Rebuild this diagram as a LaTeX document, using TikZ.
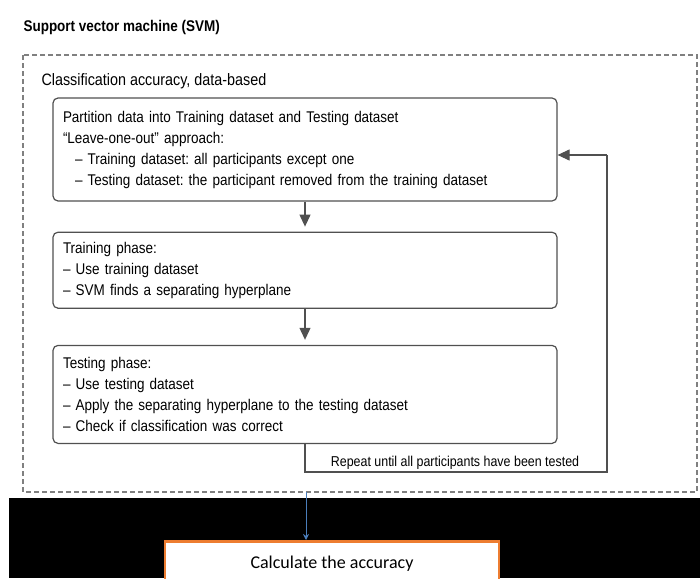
\documentclass[tikz,border=0pt]{standalone}
\usepackage{fontspec}
\setmainfont{Liberation Sans}[FakeStretch=0.87]
\newfontfamily\calfont{Carlito}
\usetikzlibrary{arrows.meta,positioning}
\definecolor{boxgray}{RGB}{80,80,80}
\definecolor{accorange}{RGB}{237,125,49}
\definecolor{arrowblue}{RGB}{74,126,187}
\tikzset{
    stepbox/.style={
        draw=boxgray,
        line width=1.2pt,
        rounded corners=5pt,
        align=left,
        text width=484pt,
        inner xsep=10pt,
        font=\fontsize{15.5}{21}\selectfont
    },
    % arrows between the steps
    flowarrow/.style={
        line width=1.1pt,
        boxgray,
        -{Triangle[length=12pt, width=11pt]}
    },
    loopline/.style={
        line width=1.2pt,
        boxgray
    },
    dashframe/.style={
        line width=1.2pt,
        gray,
        dash pattern=on 5pt off 3pt
    },
    calcbox/.style={
        draw=accorange,
        fill=white,
        line width=2.5pt,
        minimum width=334pt,
        minimum height=44pt,
        font=\calfont\fontsize{18}{22}\selectfont
    },
    bluearrow/.style={
        line width=1pt,
        arrowblue,
        -{Stealth[length=6pt, width=6pt]}
    }
}
\frenchspacing
\begin{document}
\begin{tikzpicture}[x=1pt, y=-1pt]
        \useasboundingbox (0,0) rectangle (700,578);
        \fill[black] (9,498) rectangle (700,578);

        \draw[dashframe] (23,55) rectangle (697,492);

        \node[anchor=base west, font=\bfseries\fontsize{15.5}{18}\selectfont] (title) at (20,31) {Support vector machine (SVM)};
        \node[anchor=base west, font=\fontsize{16.5}{19}\selectfont] (frame) at (38,85) {Classification accuracy, data-based};

        \node[stepbox, minimum height=103pt] (part) at (305,149.5) {Partition data into Training dataset and Testing dataset\\
            “Leave-one-out” approach:\\
            \hspace*{12pt}– Training dataset: all participants except one\\
            \hspace*{12pt}– Testing dataset: the participant removed from the training dataset};
        \node[stepbox, minimum height=76pt, below=30pt of part] (train) {Training phase:\\
            – Use training dataset\\
            – SVM finds a separating hyperplane};
        \node[stepbox, minimum height=98pt, below=36pt of train] (test) {Testing phase:\\
            – Use testing dataset\\
            – Apply the separating hyperplane to the testing dataset\\
            – Check if classification was correct};

        \draw[flowarrow, shorten >=5pt] (part) -- (train);
        \draw[flowarrow, shorten >=5pt] (train) -- (test);

        % repeat loop
        \path
        (607,472) coordinate (loopbot)
        (607,155) coordinate (looptop)
        ;
        \node[font=\fontsize{14.3}{17}\selectfont, anchor=base] (repeat) at (455,466) {Repeat until all participants have been tested};
        \draw[loopline] (test.south) -- (test.south |- loopbot) -- (loopbot) -- (looptop);
        \draw[flowarrow] (looptop) -- (looptop -| part.east);

        \node[calcbox, anchor=north] (calc) at (332,540) {Calculate the accuracy};
        \coordinate (frameout) at (306,492);
        \draw[bluearrow] (frameout) -- (frameout |- calc.north);

\end{tikzpicture}
\end{document}
